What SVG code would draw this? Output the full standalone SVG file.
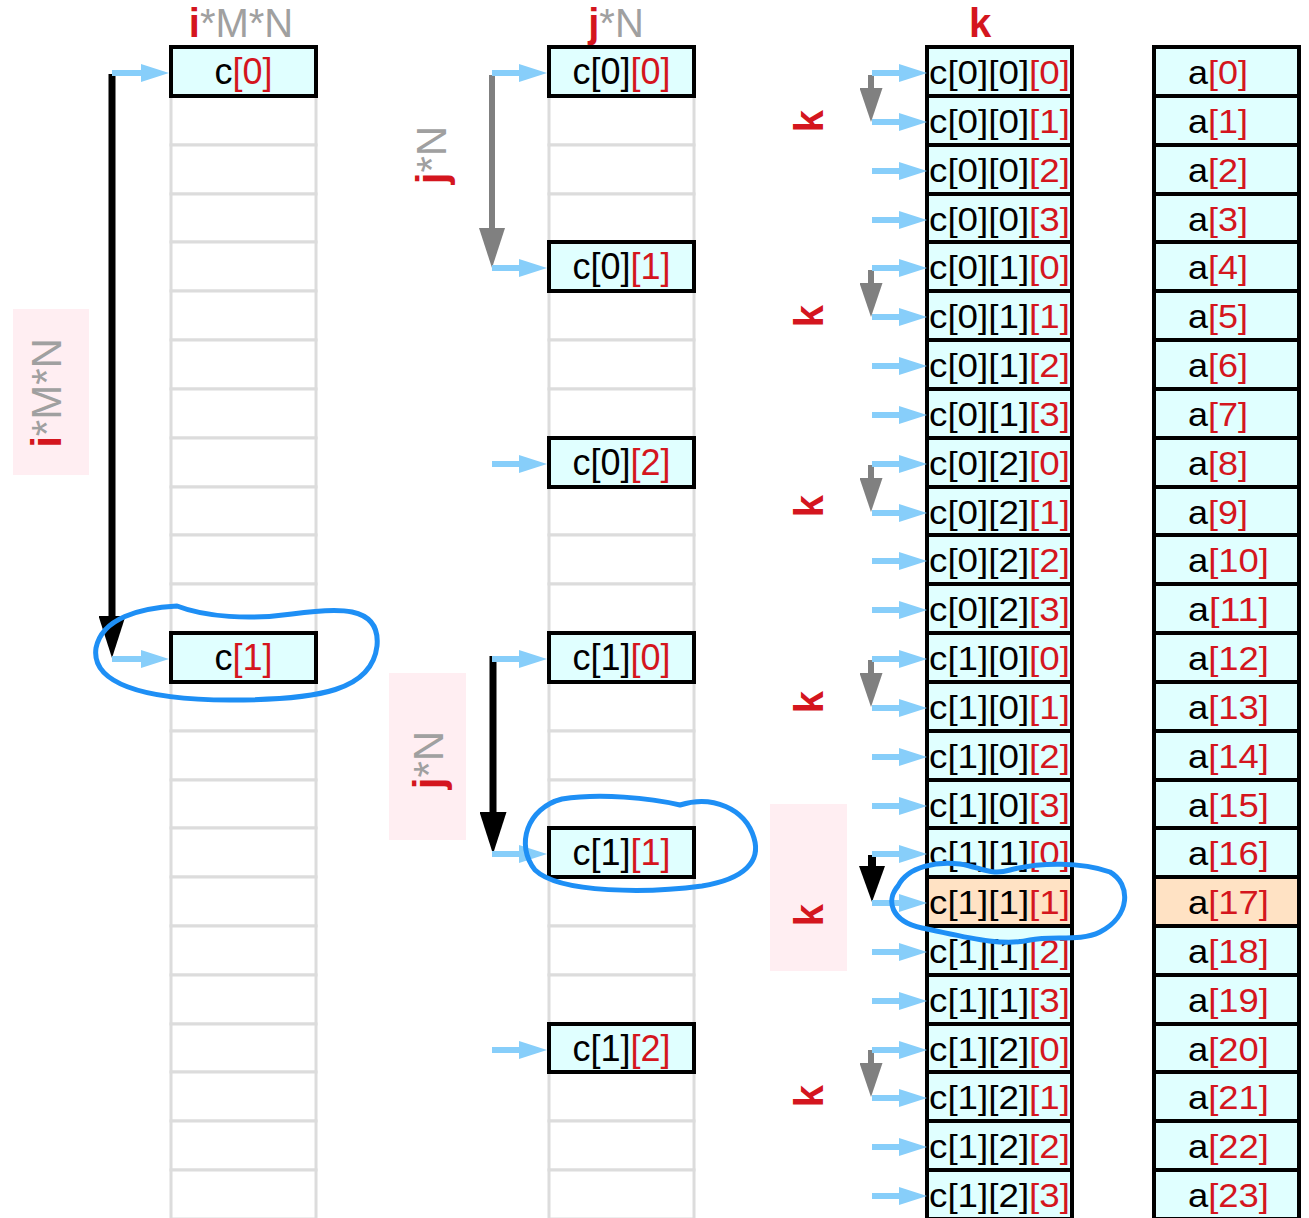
<svg xmlns="http://www.w3.org/2000/svg" width="1309" height="1218" viewBox="0 0 1309 1218">
<style>
text{font-family:"Liberation Sans",Arial,sans-serif}
.g{fill:#fff;stroke:#dcdcdc;stroke-width:3}
.b{fill:#e0ffff;stroke:#000;stroke-width:4}
.o{fill:#ffe2c4;stroke:#000;stroke-width:4}
.t36{font-size:36px;text-anchor:middle;fill:#000}
.tk{font-size:34px;fill:#000}
.ta{font-size:34px;fill:#000}
.r{fill:#d4161e}
.gr{fill:#a0a0a0}
.hd{font-size:40px;text-anchor:middle}
.rot{font-size:42px;text-anchor:middle}
.rk{font-size:40px;font-weight:bold;fill:#d4161e;text-anchor:middle}
.bw{font-weight:bold}
.pink{fill:#ffeef2}
.ba{stroke:#87cefa;stroke-width:6;fill:none;marker-end:url(#mb)}
.ell{fill:none;stroke:#1e8ff5;stroke-width:5;stroke-linejoin:round}
</style>
<defs>
<marker id="mb" markerUnits="userSpaceOnUse" markerWidth="28" markerHeight="18" viewBox="0 0 28 18" refX="0" refY="9" orient="auto"><path d="M0,0L28,9L0,18z" fill="#87cefa"/></marker>
<marker id="mkL" markerUnits="userSpaceOnUse" markerWidth="42" markerHeight="27" viewBox="0 0 42 27" refX="0" refY="13.5" orient="auto"><path d="M0,0L42,13.5L0,27z" fill="#000"/></marker>
<marker id="mgL" markerUnits="userSpaceOnUse" markerWidth="40" markerHeight="26" viewBox="0 0 40 26" refX="0" refY="13" orient="auto"><path d="M0,0L40,13L0,26z" fill="#808080"/></marker>
<marker id="mgS" markerUnits="userSpaceOnUse" markerWidth="34" markerHeight="23" viewBox="0 0 34 23" refX="0" refY="11.5" orient="auto"><path d="M0,0L34,11.5L0,23z" fill="#808080"/></marker>
<marker id="mkS" markerUnits="userSpaceOnUse" markerWidth="36" markerHeight="26" viewBox="0 0 36 26" refX="0" refY="13" orient="auto"><path d="M0,0L36,13L0,26z" fill="#000"/></marker>
</defs>
<rect width="1309" height="1218" fill="#fff"/>

<!-- pink label backgrounds -->
<rect class="pink" x="13" y="309" width="76" height="166"/>
<rect class="pink" x="389" y="673" width="77" height="167"/>
<rect class="pink" x="770" y="804" width="77" height="167"/>

<!-- headers -->
<g id="hdr-i"><text class="hd" x="241" y="37"><tspan class="r bw">i</tspan><tspan class="gr">*M*N</tspan></text></g>
<g id="hdr-j"><text class="hd" x="616" y="37"><tspan class="r bw">j</tspan><tspan class="gr">*N</tspan></text></g>
<g id="hdr-k"><text class="hd r bw" x="980" y="37">k</text></g>

<!-- rotated labels -->
<g id="lbl-iMN"><text class="rot" transform="translate(61,393) rotate(-90)"><tspan class="r bw">i</tspan><tspan class="gr">*M*N</tspan></text></g>
<g id="lbl-jN-1"><text class="rot" transform="translate(446,155) rotate(-90)"><tspan class="r bw">j</tspan><tspan class="gr">*N</tspan></text></g>
<g id="lbl-jN-2"><text class="rot" transform="translate(443,760) rotate(-90)"><tspan class="r bw">j</tspan><tspan class="gr">*N</tspan></text></g>
<g id="lbl-k">
<text class="rk" transform="translate(823,121) rotate(-90)">k</text>
<text class="rk" transform="translate(823,316) rotate(-90)">k</text>
<text class="rk" transform="translate(823,506) rotate(-90)">k</text>
<text class="rk" transform="translate(823,702) rotate(-90)">k</text>
<text class="rk" transform="translate(823,915) rotate(-90)">k</text>
<text class="rk" transform="translate(823,1096) rotate(-90)">k</text>
</g>

<!-- left column grid -->
<g id="grid-left">
<rect class="g" x="171" y="96" width="145" height="49"/>
<rect class="g" x="171" y="145" width="145" height="49"/>
<rect class="g" x="171" y="194" width="145" height="48"/>
<rect class="g" x="171" y="242" width="145" height="49"/>
<rect class="g" x="171" y="291" width="145" height="49"/>
<rect class="g" x="171" y="340" width="145" height="49"/>
<rect class="g" x="171" y="389" width="145" height="49"/>
<rect class="g" x="171" y="438" width="145" height="49"/>
<rect class="g" x="171" y="487" width="145" height="48"/>
<rect class="g" x="171" y="535" width="145" height="49"/>
<rect class="g" x="171" y="584" width="145" height="49"/>
<rect class="g" x="171" y="682" width="145" height="49"/>
<rect class="g" x="171" y="731" width="145" height="49"/>
<rect class="g" x="171" y="780" width="145" height="48"/>
<rect class="g" x="171" y="828" width="145" height="49"/>
<rect class="g" x="171" y="877" width="145" height="49"/>
<rect class="g" x="171" y="926" width="145" height="49"/>
<rect class="g" x="171" y="975" width="145" height="49"/>
<rect class="g" x="171" y="1024" width="145" height="48"/>
<rect class="g" x="171" y="1072" width="145" height="49"/>
<rect class="g" x="171" y="1121" width="145" height="49"/>
<rect class="g" x="171" y="1170" width="145" height="49"/>
</g>
<g id="c0"><rect class="b" x="171" y="47" width="145" height="49"/><text class="t36" x="243.5" y="84">c<tspan class="r">[0]</tspan></text></g>
<g id="c1"><rect class="b" x="171" y="633" width="145" height="49"/><text class="t36" x="243.5" y="670">c<tspan class="r">[1]</tspan></text></g>

<!-- middle column grid -->
<g id="grid-mid">
<rect class="g" x="549" y="96" width="145" height="49"/>
<rect class="g" x="549" y="145" width="145" height="49"/>
<rect class="g" x="549" y="194" width="145" height="48"/>
<rect class="g" x="549" y="291" width="145" height="49"/>
<rect class="g" x="549" y="340" width="145" height="49"/>
<rect class="g" x="549" y="389" width="145" height="49"/>
<rect class="g" x="549" y="487" width="145" height="48"/>
<rect class="g" x="549" y="535" width="145" height="49"/>
<rect class="g" x="549" y="584" width="145" height="49"/>
<rect class="g" x="549" y="682" width="145" height="49"/>
<rect class="g" x="549" y="731" width="145" height="49"/>
<rect class="g" x="549" y="780" width="145" height="48"/>
<rect class="g" x="549" y="877" width="145" height="49"/>
<rect class="g" x="549" y="926" width="145" height="49"/>
<rect class="g" x="549" y="975" width="145" height="49"/>
<rect class="g" x="549" y="1072" width="145" height="49"/>
<rect class="g" x="549" y="1121" width="145" height="49"/>
<rect class="g" x="549" y="1170" width="145" height="49"/>
</g>
<g id="c0_0"><rect class="b" x="549" y="47" width="145" height="49"/><text class="t36" x="621.5" y="84">c[0]<tspan class="r">[0]</tspan></text></g>
<g id="c0_1"><rect class="b" x="549" y="242" width="145" height="49"/><text class="t36" x="621.5" y="279">c[0]<tspan class="r">[1]</tspan></text></g>
<g id="c0_2"><rect class="b" x="549" y="438" width="145" height="49"/><text class="t36" x="621.5" y="475">c[0]<tspan class="r">[2]</tspan></text></g>
<g id="c1_0"><rect class="b" x="549" y="633" width="145" height="49"/><text class="t36" x="621.5" y="670">c[1]<tspan class="r">[0]</tspan></text></g>
<g id="c1_1"><rect class="b" x="549" y="828" width="145" height="49"/><text class="t36" x="621.5" y="865">c[1]<tspan class="r">[1]</tspan></text></g>
<g id="c1_2"><rect class="b" x="549" y="1024" width="145" height="48"/><text class="t36" x="621.5" y="1061">c[1]<tspan class="r">[2]</tspan></text></g>

<!-- k column -->
<g id="c0_0_0"><rect class="b" x="927" y="47" width="145" height="49"/><text class="tk" x="929" y="84" textLength="141" lengthAdjust="spacingAndGlyphs">c[0][0]<tspan class="r">[0]</tspan></text></g>
<g id="c0_0_1"><rect class="b" x="927" y="96" width="145" height="49"/><text class="tk" x="929" y="133" textLength="141" lengthAdjust="spacingAndGlyphs">c[0][0]<tspan class="r">[1]</tspan></text></g>
<g id="c0_0_2"><rect class="b" x="927" y="145" width="145" height="49"/><text class="tk" x="929" y="182" textLength="141" lengthAdjust="spacingAndGlyphs">c[0][0]<tspan class="r">[2]</tspan></text></g>
<g id="c0_0_3"><rect class="b" x="927" y="194" width="145" height="48"/><text class="tk" x="929" y="231" textLength="141" lengthAdjust="spacingAndGlyphs">c[0][0]<tspan class="r">[3]</tspan></text></g>
<g id="c0_1_0"><rect class="b" x="927" y="242" width="145" height="49"/><text class="tk" x="929" y="279" textLength="141" lengthAdjust="spacingAndGlyphs">c[0][1]<tspan class="r">[0]</tspan></text></g>
<g id="c0_1_1"><rect class="b" x="927" y="291" width="145" height="49"/><text class="tk" x="929" y="328" textLength="141" lengthAdjust="spacingAndGlyphs">c[0][1]<tspan class="r">[1]</tspan></text></g>
<g id="c0_1_2"><rect class="b" x="927" y="340" width="145" height="49"/><text class="tk" x="929" y="377" textLength="141" lengthAdjust="spacingAndGlyphs">c[0][1]<tspan class="r">[2]</tspan></text></g>
<g id="c0_1_3"><rect class="b" x="927" y="389" width="145" height="49"/><text class="tk" x="929" y="426" textLength="141" lengthAdjust="spacingAndGlyphs">c[0][1]<tspan class="r">[3]</tspan></text></g>
<g id="c0_2_0"><rect class="b" x="927" y="438" width="145" height="49"/><text class="tk" x="929" y="475" textLength="141" lengthAdjust="spacingAndGlyphs">c[0][2]<tspan class="r">[0]</tspan></text></g>
<g id="c0_2_1"><rect class="b" x="927" y="487" width="145" height="48"/><text class="tk" x="929" y="524" textLength="141" lengthAdjust="spacingAndGlyphs">c[0][2]<tspan class="r">[1]</tspan></text></g>
<g id="c0_2_2"><rect class="b" x="927" y="535" width="145" height="49"/><text class="tk" x="929" y="572" textLength="141" lengthAdjust="spacingAndGlyphs">c[0][2]<tspan class="r">[2]</tspan></text></g>
<g id="c0_2_3"><rect class="b" x="927" y="584" width="145" height="49"/><text class="tk" x="929" y="621" textLength="141" lengthAdjust="spacingAndGlyphs">c[0][2]<tspan class="r">[3]</tspan></text></g>
<g id="c1_0_0"><rect class="b" x="927" y="633" width="145" height="49"/><text class="tk" x="929" y="670" textLength="141" lengthAdjust="spacingAndGlyphs">c[1][0]<tspan class="r">[0]</tspan></text></g>
<g id="c1_0_1"><rect class="b" x="927" y="682" width="145" height="49"/><text class="tk" x="929" y="719" textLength="141" lengthAdjust="spacingAndGlyphs">c[1][0]<tspan class="r">[1]</tspan></text></g>
<g id="c1_0_2"><rect class="b" x="927" y="731" width="145" height="49"/><text class="tk" x="929" y="768" textLength="141" lengthAdjust="spacingAndGlyphs">c[1][0]<tspan class="r">[2]</tspan></text></g>
<g id="c1_0_3"><rect class="b" x="927" y="780" width="145" height="48"/><text class="tk" x="929" y="817" textLength="141" lengthAdjust="spacingAndGlyphs">c[1][0]<tspan class="r">[3]</tspan></text></g>
<g id="c1_1_0"><rect class="b" x="927" y="828" width="145" height="49"/><text class="tk" x="929" y="865" textLength="141" lengthAdjust="spacingAndGlyphs">c[1][1]<tspan class="r">[0]</tspan></text></g>
<g id="c1_1_1"><rect class="o" x="927" y="877" width="145" height="49"/><text class="tk" x="929" y="914" textLength="141" lengthAdjust="spacingAndGlyphs">c[1][1]<tspan class="r">[1]</tspan></text></g>
<g id="c1_1_2"><rect class="b" x="927" y="926" width="145" height="49"/><text class="tk" x="929" y="963" textLength="141" lengthAdjust="spacingAndGlyphs">c[1][1]<tspan class="r">[2]</tspan></text></g>
<g id="c1_1_3"><rect class="b" x="927" y="975" width="145" height="49"/><text class="tk" x="929" y="1012" textLength="141" lengthAdjust="spacingAndGlyphs">c[1][1]<tspan class="r">[3]</tspan></text></g>
<g id="c1_2_0"><rect class="b" x="927" y="1024" width="145" height="48"/><text class="tk" x="929" y="1061" textLength="141" lengthAdjust="spacingAndGlyphs">c[1][2]<tspan class="r">[0]</tspan></text></g>
<g id="c1_2_1"><rect class="b" x="927" y="1072" width="145" height="49"/><text class="tk" x="929" y="1109" textLength="141" lengthAdjust="spacingAndGlyphs">c[1][2]<tspan class="r">[1]</tspan></text></g>
<g id="c1_2_2"><rect class="b" x="927" y="1121" width="145" height="49"/><text class="tk" x="929" y="1158" textLength="141" lengthAdjust="spacingAndGlyphs">c[1][2]<tspan class="r">[2]</tspan></text></g>
<g id="c1_2_3"><rect class="b" x="927" y="1170" width="145" height="49"/><text class="tk" x="929" y="1207" textLength="141" lengthAdjust="spacingAndGlyphs">c[1][2]<tspan class="r">[3]</tspan></text></g>

<!-- a column -->
<g id="a0"><rect class="b" x="1154" y="47" width="145" height="49"/><text class="ta" x="1188" y="84" textLength="60" lengthAdjust="spacingAndGlyphs">a<tspan class="r">[0]</tspan></text></g>
<g id="a1"><rect class="b" x="1154" y="96" width="145" height="49"/><text class="ta" x="1188" y="133" textLength="60" lengthAdjust="spacingAndGlyphs">a<tspan class="r">[1]</tspan></text></g>
<g id="a2"><rect class="b" x="1154" y="145" width="145" height="49"/><text class="ta" x="1188" y="182" textLength="60" lengthAdjust="spacingAndGlyphs">a<tspan class="r">[2]</tspan></text></g>
<g id="a3"><rect class="b" x="1154" y="194" width="145" height="48"/><text class="ta" x="1188" y="231" textLength="60" lengthAdjust="spacingAndGlyphs">a<tspan class="r">[3]</tspan></text></g>
<g id="a4"><rect class="b" x="1154" y="242" width="145" height="49"/><text class="ta" x="1188" y="279" textLength="60" lengthAdjust="spacingAndGlyphs">a<tspan class="r">[4]</tspan></text></g>
<g id="a5"><rect class="b" x="1154" y="291" width="145" height="49"/><text class="ta" x="1188" y="328" textLength="60" lengthAdjust="spacingAndGlyphs">a<tspan class="r">[5]</tspan></text></g>
<g id="a6"><rect class="b" x="1154" y="340" width="145" height="49"/><text class="ta" x="1188" y="377" textLength="60" lengthAdjust="spacingAndGlyphs">a<tspan class="r">[6]</tspan></text></g>
<g id="a7"><rect class="b" x="1154" y="389" width="145" height="49"/><text class="ta" x="1188" y="426" textLength="60" lengthAdjust="spacingAndGlyphs">a<tspan class="r">[7]</tspan></text></g>
<g id="a8"><rect class="b" x="1154" y="438" width="145" height="49"/><text class="ta" x="1188" y="475" textLength="60" lengthAdjust="spacingAndGlyphs">a<tspan class="r">[8]</tspan></text></g>
<g id="a9"><rect class="b" x="1154" y="487" width="145" height="48"/><text class="ta" x="1188" y="524" textLength="60" lengthAdjust="spacingAndGlyphs">a<tspan class="r">[9]</tspan></text></g>
<g id="a10"><rect class="b" x="1154" y="535" width="145" height="49"/><text class="ta" x="1188" y="572" textLength="81" lengthAdjust="spacingAndGlyphs">a<tspan class="r">[10]</tspan></text></g>
<g id="a11"><rect class="b" x="1154" y="584" width="145" height="49"/><text class="ta" x="1188" y="621" textLength="81" lengthAdjust="spacingAndGlyphs">a<tspan class="r">[11]</tspan></text></g>
<g id="a12"><rect class="b" x="1154" y="633" width="145" height="49"/><text class="ta" x="1188" y="670" textLength="81" lengthAdjust="spacingAndGlyphs">a<tspan class="r">[12]</tspan></text></g>
<g id="a13"><rect class="b" x="1154" y="682" width="145" height="49"/><text class="ta" x="1188" y="719" textLength="81" lengthAdjust="spacingAndGlyphs">a<tspan class="r">[13]</tspan></text></g>
<g id="a14"><rect class="b" x="1154" y="731" width="145" height="49"/><text class="ta" x="1188" y="768" textLength="81" lengthAdjust="spacingAndGlyphs">a<tspan class="r">[14]</tspan></text></g>
<g id="a15"><rect class="b" x="1154" y="780" width="145" height="48"/><text class="ta" x="1188" y="817" textLength="81" lengthAdjust="spacingAndGlyphs">a<tspan class="r">[15]</tspan></text></g>
<g id="a16"><rect class="b" x="1154" y="828" width="145" height="49"/><text class="ta" x="1188" y="865" textLength="81" lengthAdjust="spacingAndGlyphs">a<tspan class="r">[16]</tspan></text></g>
<g id="a17"><rect class="o" x="1154" y="877" width="145" height="49"/><text class="ta" x="1188" y="914" textLength="81" lengthAdjust="spacingAndGlyphs">a<tspan class="r">[17]</tspan></text></g>
<g id="a18"><rect class="b" x="1154" y="926" width="145" height="49"/><text class="ta" x="1188" y="963" textLength="81" lengthAdjust="spacingAndGlyphs">a<tspan class="r">[18]</tspan></text></g>
<g id="a19"><rect class="b" x="1154" y="975" width="145" height="49"/><text class="ta" x="1188" y="1012" textLength="81" lengthAdjust="spacingAndGlyphs">a<tspan class="r">[19]</tspan></text></g>
<g id="a20"><rect class="b" x="1154" y="1024" width="145" height="48"/><text class="ta" x="1188" y="1061" textLength="81" lengthAdjust="spacingAndGlyphs">a<tspan class="r">[20]</tspan></text></g>
<g id="a21"><rect class="b" x="1154" y="1072" width="145" height="49"/><text class="ta" x="1188" y="1109" textLength="81" lengthAdjust="spacingAndGlyphs">a<tspan class="r">[21]</tspan></text></g>
<g id="a22"><rect class="b" x="1154" y="1121" width="145" height="49"/><text class="ta" x="1188" y="1158" textLength="81" lengthAdjust="spacingAndGlyphs">a<tspan class="r">[22]</tspan></text></g>
<g id="a23"><rect class="b" x="1154" y="1170" width="145" height="49"/><text class="ta" x="1188" y="1207" textLength="81" lengthAdjust="spacingAndGlyphs">a<tspan class="r">[23]</tspan></text></g>

<!-- connectors -->
<g id="connectors">
<path d="M112 74V616" stroke="#000" stroke-width="7" fill="none" marker-end="url(#mkL)"/>
<path class="ba" d="M112 73H141"/>
<path class="ba" d="M112 659H141"/>

<path d="M492 75V228" stroke="#808080" stroke-width="6" fill="none" marker-end="url(#mgL)"/>
<path d="M493 656V812" stroke="#000" stroke-width="7" fill="none" marker-end="url(#mkL)"/>
<path class="ba" d="M492 73H519"/>
<path class="ba" d="M492 268H519"/>
<path class="ba" d="M492 464H519"/>
<path class="ba" d="M492 659H519"/>
<path class="ba" d="M492 854H519"/>
<path class="ba" d="M492 1050H519"/>

<path d="M871 75V88" stroke="#808080" stroke-width="6" fill="none" marker-end="url(#mgS)"/>
<path d="M871 270V283" stroke="#808080" stroke-width="6" fill="none" marker-end="url(#mgS)"/>
<path d="M871 465V478" stroke="#808080" stroke-width="6" fill="none" marker-end="url(#mgS)"/>
<path d="M871 660V673" stroke="#808080" stroke-width="6" fill="none" marker-end="url(#mgS)"/>
<path d="M872 855V866" stroke="#000" stroke-width="8" fill="none" marker-end="url(#mkS)"/>
<path d="M871 1050V1063" stroke="#808080" stroke-width="6" fill="none" marker-end="url(#mgS)"/>

<path class="ba" d="M872 73H899"/>
<path class="ba" d="M872 122H899"/>
<path class="ba" d="M872 171H899"/>
<path class="ba" d="M872 220H899"/>
<path class="ba" d="M872 268H899"/>
<path class="ba" d="M872 317H899"/>
<path class="ba" d="M872 366H899"/>
<path class="ba" d="M872 415H899"/>
<path class="ba" d="M872 464H899"/>
<path class="ba" d="M872 513H899"/>
<path class="ba" d="M872 561H899"/>
<path class="ba" d="M872 610H899"/>
<path class="ba" d="M872 659H899"/>
<path class="ba" d="M872 708H899"/>
<path class="ba" d="M872 757H899"/>
<path class="ba" d="M872 806H899"/>
<path class="ba" d="M872 854H899"/>
<path class="ba" d="M872 903H899"/>
<path class="ba" d="M872 952H899"/>
<path class="ba" d="M872 1001H899"/>
<path class="ba" d="M872 1050H899"/>
<path class="ba" d="M872 1098H899"/>
<path class="ba" d="M872 1147H899"/>
<path class="ba" d="M872 1196H899"/>
</g>

<!-- hand-drawn highlight loops -->
<g id="highlights">
<path class="ell" d="M177 606C140 608 102 618 96 648C91 682 140 700 230 700C320 700 372 690 377 646C381 604 335 608 292 614C250 620 205 617 177 606Z"/>
<path class="ell" d="M680 805C650 798 600 793 562 799C527 808 515 845 535 870C560 894 650 893 702 886C745 879 761 861 754 838C745 808 712 795 680 805Z"/>
<path class="ell" d="M898 886C908 866 938 861 960 864C980 867 990 876 1010 870C1040 862 1082 862 1110 872C1131 884 1131 916 1100 932C1080 942 1052 935 1030 940C1000 947 962 936 922 928C890 921 886 900 898 886Z"/>
</g>
</svg>
